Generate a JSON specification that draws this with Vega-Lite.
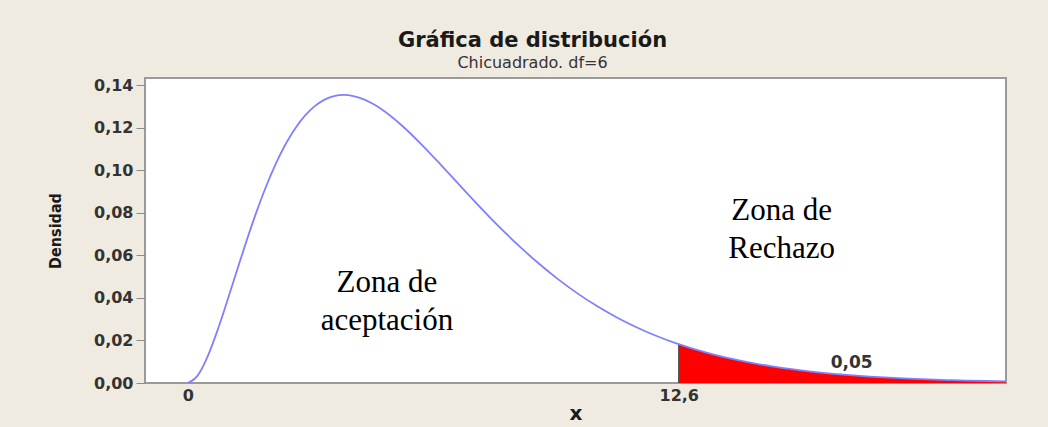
{
  "$schema": "https://vega.github.io/schema/vega-lite/v6.json",
  "autosize": "none",
  "width": 861,
  "height": 305,
  "padding": {"left": 145, "top": 78, "right": 42, "bottom": 44},
  "background": "#EFEBE0",
  "title": {
    "text": "Gráfica de distribución",
    "subtitle": "Chicuadrado. df=6",
    "anchor": "middle",
    "dx": -43,
    "offset": 6,
    "font": "DejaVu Sans",
    "fontSize": 21,
    "fontWeight": "bold",
    "color": "#1a1a1a",
    "subtitleFont": "DejaVu Sans",
    "subtitleFontSize": 16,
    "subtitleColor": "#333333",
    "subtitlePadding": 4
  },
  "datasets": {
    "pdf": [
      {"x": 0, "y": 0},
      {"x": 0.25, "y": 0.003447},
      {"x": 0.5, "y": 0.01217},
      {"x": 0.75, "y": 0.02416},
      {"x": 1, "y": 0.03791},
      {"x": 1.25, "y": 0.05227},
      {"x": 1.5, "y": 0.06643},
      {"x": 1.75, "y": 0.07979},
      {"x": 2, "y": 0.09197},
      {"x": 2.25, "y": 0.10272},
      {"x": 2.5, "y": 0.11192},
      {"x": 2.75, "y": 0.11951},
      {"x": 3, "y": 0.12551},
      {"x": 3.25, "y": 0.12999},
      {"x": 3.5, "y": 0.13304},
      {"x": 3.75, "y": 0.13478},
      {"x": 4, "y": 0.13534},
      {"x": 4.25, "y": 0.13483},
      {"x": 4.5, "y": 0.1334},
      {"x": 4.75, "y": 0.13117},
      {"x": 5, "y": 0.12826},
      {"x": 5.5, "y": 0.12086},
      {"x": 6, "y": 0.11202},
      {"x": 6.5, "y": 0.10239},
      {"x": 7, "y": 0.09248},
      {"x": 7.5, "y": 0.08268},
      {"x": 8, "y": 0.07326},
      {"x": 8.5, "y": 0.06441},
      {"x": 9, "y": 0.05624},
      {"x": 9.5, "y": 0.0488},
      {"x": 10, "y": 0.04211},
      {"x": 10.5, "y": 0.03616},
      {"x": 11, "y": 0.03091},
      {"x": 11.5, "y": 0.02631},
      {"x": 12, "y": 0.02231},
      {"x": 12.5, "y": 0.01885},
      {"x": 12.6, "y": 0.01822},
      {"x": 13, "y": 0.01588},
      {"x": 13.5, "y": 0.01334},
      {"x": 14, "y": 0.01117},
      {"x": 14.5, "y": 0.00933},
      {"x": 15, "y": 0.00778},
      {"x": 15.5, "y": 0.00647},
      {"x": 16, "y": 0.00537},
      {"x": 16.5, "y": 0.00445},
      {"x": 17, "y": 0.00368},
      {"x": 17.5, "y": 0.00303},
      {"x": 18, "y": 0.0025},
      {"x": 18.5, "y": 0.00206},
      {"x": 19, "y": 0.00169},
      {"x": 19.5, "y": 0.00139},
      {"x": 20, "y": 0.00114},
      {"x": 20.5, "y": 0.000929},
      {"x": 21, "y": 0.000759}
    ],
    "critical": [
      {"x": 12.6, "y0": 0, "y1": 0.01822}
    ],
    "zones": [
      {"x": 5.11, "y": 0.0427, "label": "Zona de\naceptación"},
      {"x": 15.24, "y": 0.0765, "label": "Zona de\nRechazo"}
    ],
    "tail": [
      {"x": 17.04, "y": 0.00704, "label": "0,05"}
    ]
  },
  "encoding": {
    "x": {
      "type": "quantitative",
      "scale": {"domain": [-1.1, 21.0], "nice": false, "zero": false},
      "axis": {
        "title": "x",
        "values": [0, 12.6],
        "labelExpr": "replace(format(datum.value, '.1~f'), '.', ',')",
        "ticks": false,
        "domain": false,
        "grid": false,
        "labelPadding": 4,
        "labelFont": "DejaVu Sans",
        "labelFontSize": 16,
        "labelFontWeight": "bold",
        "labelColor": "#333333",
        "titleFont": "DejaVu Sans",
        "titleFontSize": 20,
        "titleFontWeight": "bold",
        "titleColor": "#1a1a1a",
        "titlePadding": 0
      }
    },
    "y": {
      "type": "quantitative",
      "scale": {"domain": [0, 0.1433], "nice": false, "zero": false},
      "axis": {
        "title": "Densidad",
        "values": [0, 0.02, 0.04, 0.06, 0.08, 0.1, 0.12, 0.14],
        "labelExpr": "replace(format(datum.value, '.2f'), '.', ',')",
        "domain": false,
        "grid": false,
        "ticks": true,
        "tickSize": 9,
        "tickColor": "#8a8a8a",
        "tickWidth": 1,
        "labelPadding": 3,
        "labelFont": "DejaVu Sans",
        "labelFontSize": 16,
        "labelFontWeight": "bold",
        "labelColor": "#333333",
        "titleFont": "DejaVu Sans Condensed, Liberation Sans Narrow, DejaVu Sans",
        "titleFontSize": 16,
        "titleFontWeight": "bold",
        "titleColor": "#1a1a1a",
        "titlePadding": 30
      }
    }
  },
  "layer": [
    {
      "data": {"name": "pdf"},
      "transform": [{"filter": "datum.x >= 12.6"}],
      "mark": {"type": "area", "color": "#FF0000", "interpolate": "monotone"},
      "encoding": {
        "x": {"field": "x"},
        "y": {"field": "y"}
      }
    },
    {
      "data": {"name": "critical"},
      "mark": {"type": "rule", "color": "#555555", "strokeWidth": 1.5},
      "encoding": {
        "x": {"field": "x"},
        "y": {"field": "y0"},
        "y2": {"field": "y1"}
      }
    },
    {
      "data": {"name": "pdf"},
      "mark": {"type": "line", "color": "#8080FF", "strokeWidth": 1.8, "interpolate": "monotone"},
      "encoding": {
        "x": {"field": "x"},
        "y": {"field": "y"}
      }
    },
    {
      "data": {"name": "zones"},
      "mark": {
        "type": "text",
        "font": "Liberation Serif",
        "fontSize": 31,
        "lineHeight": 38,
        "lineBreak": "\n",
        "align": "center",
        "baseline": "alphabetic",
        "color": "#000000"
      },
      "encoding": {
        "x": {"field": "x"},
        "y": {"field": "y"},
        "text": {"field": "label"}
      }
    },
    {
      "data": {"name": "tail"},
      "mark": {
        "type": "text",
        "font": "DejaVu Sans",
        "fontSize": 17,
        "fontWeight": "bold",
        "align": "center",
        "baseline": "alphabetic",
        "color": "#333333"
      },
      "encoding": {
        "x": {"field": "x"},
        "y": {"field": "y"},
        "text": {"field": "label"}
      }
    }
  ],
  "config": {
    "view": {"stroke": "#9a9a9a", "strokeWidth": 2, "fill": "#FFFFFF"}
  }
}
